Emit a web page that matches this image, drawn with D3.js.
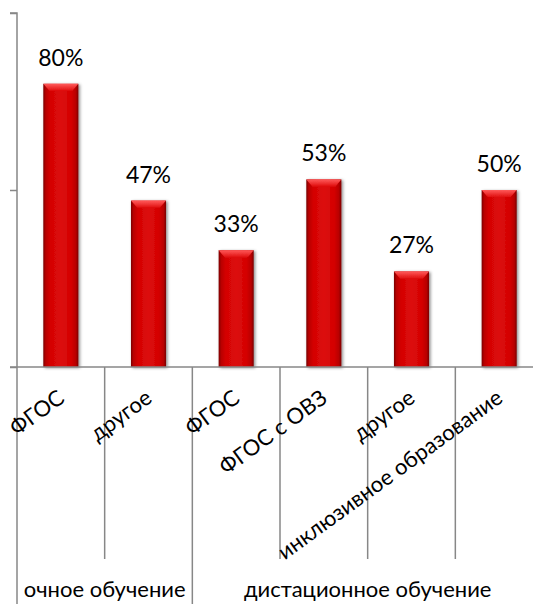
<!DOCTYPE html>
<html><head><meta charset="utf-8">
<script src="https://cdn.jsdelivr.net/npm/d3@7"></script>
<style>html,body{margin:0;padding:0;background:#fff;overflow:hidden}</style>
</head><body>
<svg id="c" width="533" height="604"></svg>
<script>
const categories = ["ФГОС","другое","ФГОС","ФГОС с ОВЗ","другое","инклюзивное образование"];
const values = [80,47,33,53,27,50];
const groups = ["очное обучение","дистационное обучение"];
const groupSizes = [2,4];
const yTicks = [0,50,100];

(function(){
const svg = d3.select("#c");
const FONT = "Lato, 'Open Sans', sans-serif";
const pLeft = 17, pRight = 543, pTop = 13, base = 367;

const x = d3.scaleBand().domain(d3.range(categories.length)).range([pLeft,pRight]).paddingInner(0.6).paddingOuter(0.3);
const y = d3.scaleLinear().domain([0,100]).range([base, pTop]);
const step = x.step();
const gray = "#878787";

const defs = svg.append("defs");
const g1 = defs.append("linearGradient").attr("id","barG").attr("x1","0").attr("x2","1").attr("y1","0").attr("y2","0");
[[0,"#7a0000"],[0.07,"#b80000"],[0.2,"#d40404"],[0.5,"#dc0a0a"],[0.8,"#d40404"],[0.93,"#b80000"],[1,"#7a0000"]]
  .forEach(([o,c])=>g1.append("stop").attr("offset",o).attr("stop-color",c));
const g2 = defs.append("linearGradient").attr("id","topG").attr("x1","0").attr("x2","0").attr("y1","0").attr("y2","1");
[[0,"#ff5a5a"],[1,"#e01010"]].forEach(([o,c])=>g2.append("stop").attr("offset",o).attr("stop-color",c));
const f = defs.append("filter").attr("id","sh").attr("x","-30%").attr("y","-10%").attr("width","160%").attr("height","130%");
f.append("feDropShadow").attr("dx",1.5).attr("dy",1).attr("stdDeviation",1.5).attr("flood-color","#000").attr("flood-opacity",0.45);

// y axis
const yAxis = d3.axisLeft(y).tickValues(yTicks).tickSize(7).tickFormat("");
const ya = svg.append("g").attr("transform",`translate(${pLeft},0)`).call(yAxis);
ya.selectAll("path,line").attr("stroke",gray).attr("stroke-width",1.5);
ya.select(".domain").attr("d",`M-7,${pTop}H0V${base}`);

// category divider lines
let boundaryIdx = [0]; groupSizes.reduce((a,s)=>{boundaryIdx.push(a+s); return a+s;},0);
d3.range(categories.length+1).forEach(i=>{
  const xx = pLeft + i*step;
  svg.append("line").attr("x1",xx).attr("x2",xx).attr("y1",base)
    .attr("y2", boundaryIdx.includes(i) ? 604 : 559)
    .attr("stroke",gray).attr("stroke-width",1.5);
});

// bars
const bars = svg.append("g").selectAll("g").data(values).join("g").attr("filter","url(#sh)");
bars.append("rect").attr("x",(d,i)=>x(i)).attr("y",d=>y(d)).attr("width",x.bandwidth()).attr("height",d=>y(0)-y(d)).attr("fill","url(#barG)");
bars.append("path").attr("d",(d,i)=>{
  const x0=x(i), w=x.bandwidth(), t=y(d), h=7;
  return `M${x0},${t}H${x0+w}L${x0+w-6},${t+h}H${x0+6}Z`;
}).attr("fill","url(#topG)");

// baseline
svg.append("line").attr("x1",pLeft-7).attr("x2",pRight).attr("y1",base).attr("y2",base).attr("stroke",gray).attr("stroke-width",1.5);

// value labels
svg.append("g").selectAll("text").data(values).join("text")
  .attr("x",(d,i)=>x(i)+x.bandwidth()/2).attr("y",d=>y(d)-18)
  .attr("text-anchor","middle").attr("font-family",FONT).attr("font-size",23).attr("fill","#000")
  .text(d=>d+"%");

// category labels
svg.append("g").selectAll("text").data(categories).join("text")
  .attr("transform",(d,i)=>`translate(${x(i)+x.bandwidth()/2+5},401) rotate(-36)`)
  .attr("text-anchor","end").attr("font-family",FONT).attr("font-size",22).attr("fill","#000")
  .text(d=>d);

// group labels
let acc=0;
groups.forEach((g,k)=>{
  const s = pLeft + acc*step, e = pLeft + (acc+groupSizes[k])*step;
  acc += groupSizes[k];
  svg.append("text").attr("x",(s+e)/2).attr("y",597).attr("text-anchor","middle")
    .attr("font-family",FONT).attr("font-size",22).attr("fill","#000").text(g);
});
})();
</script>
</body></html>
